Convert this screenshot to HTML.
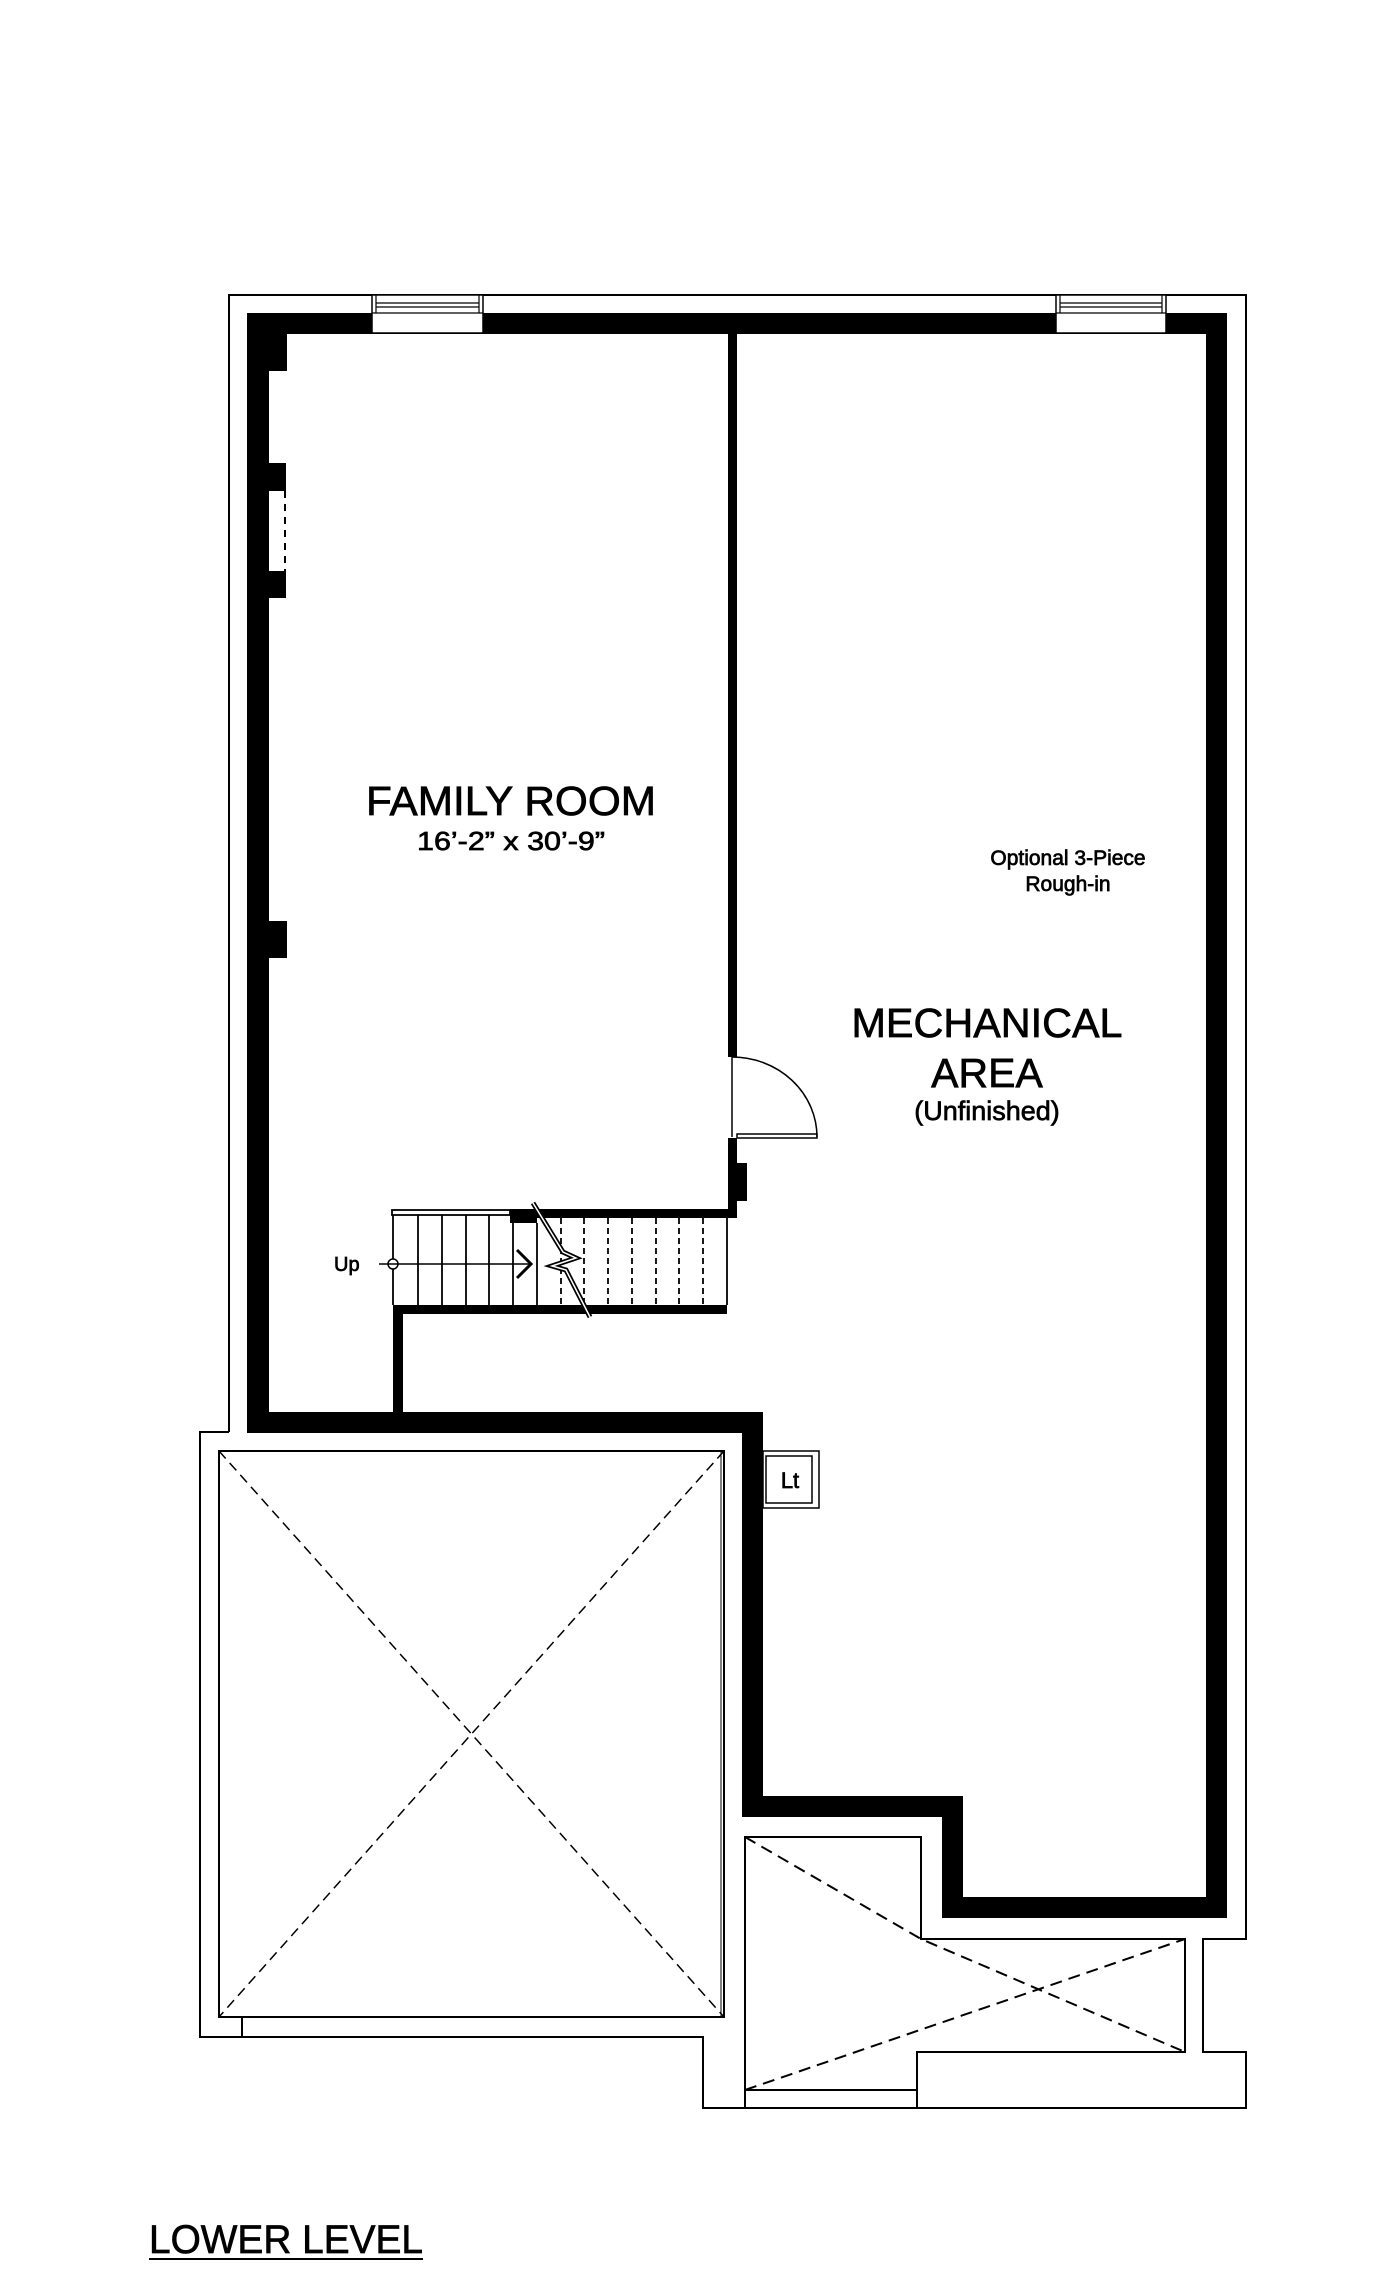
<!DOCTYPE html>
<html><head><meta charset="utf-8"><style>
html,body{margin:0;padding:0;background:#fff;}
svg{display:block;}
text{font-family:"Liberation Sans",sans-serif;fill:#000;stroke:#000;stroke-width:0.7;}
</style></head><body>
<svg width="1400" height="2277" viewBox="0 0 1400 2277" xmlns="http://www.w3.org/2000/svg">
<g fill="none" stroke="#000" stroke-width="2">
<polyline points="229,1432 229,295 1246,295 1246,1939 1203,1939 1203,2052 1246,2052 1246,2108 703,2108 703,2037 200,2037 200,1432 229,1432"/>
<line x1="242" y1="2017" x2="242" y2="2037"/>
</g>
<g fill="#000">
<rect x="247" y="313" width="980" height="21"/>
<rect x="247" y="313" width="22" height="1120"/>
<rect x="269" y="334" width="18" height="37"/>
<rect x="263" y="463" width="23" height="28"/>
<rect x="263" y="571" width="23" height="27"/>
<rect x="269" y="921" width="18" height="37"/>
<rect x="1206" y="313" width="21" height="1605"/>
<rect x="247" y="1412" width="516" height="21"/>
<rect x="742" y="1412" width="21" height="405"/>
<rect x="742" y="1796" width="221" height="21"/>
<rect x="942" y="1796" width="21" height="122"/>
<rect x="942" y="1897" width="285" height="21"/>
<rect x="728" y="334" width="9" height="723"/>
<rect x="728" y="1138" width="9" height="80"/>
<rect x="737" y="1163" width="10" height="38"/>
<rect x="510" y="1209" width="227" height="9"/>
<rect x="510" y="1218" width="27" height="5"/>
<rect x="393" y="1305" width="334" height="9"/>
<rect x="393" y="1305" width="10" height="107"/>
</g>
<rect x="269" y="491" width="16" height="80" fill="#fff"/>
<line x1="285" y1="491" x2="285" y2="571" stroke="#000" stroke-width="2" stroke-dasharray="7,6"/>
<line x1="263" y1="463" x2="263" y2="598" stroke="#000" stroke-width="1"/>
<g stroke="#000" stroke-width="1.5" fill="#fff">
<rect x="372" y="295" width="111" height="38"/>
<rect x="1056" y="295" width="110" height="38"/>
</g>
<g stroke="#000" stroke-width="1.2">
<line x1="376" y1="295" x2="376" y2="313"/><line x1="479" y1="295" x2="479" y2="313"/>
<line x1="376" y1="303" x2="479" y2="303"/><line x1="376" y1="307" x2="479" y2="307"/><line x1="372" y1="313" x2="483" y2="313"/>
<line x1="1060" y1="295" x2="1060" y2="313"/><line x1="1162" y1="295" x2="1162" y2="313"/>
<line x1="1060" y1="303" x2="1162" y2="303"/><line x1="1060" y1="307" x2="1162" y2="307"/><line x1="1056" y1="313" x2="1166" y2="313"/>
</g>
<g fill="none" stroke="#000" stroke-width="1.5">
<line x1="732" y1="1057" x2="732" y2="1137"/>
<path d="M732,1057 A85,80 0 0 1 817,1137"/>
<rect x="737" y="1134" width="80" height="4"/>
</g>
<g stroke="#000" stroke-width="1.8" fill="none">
<rect x="392" y="1210" width="118" height="5"/>
<line x1="393" y1="1215" x2="393" y2="1305"/>
<line x1="727" y1="1218" x2="727" y2="1305"/>
<line x1="418" y1="1215" x2="418" y2="1305"/><line x1="442" y1="1215" x2="442" y2="1305"/>
<line x1="466" y1="1215" x2="466" y2="1305"/><line x1="489" y1="1215" x2="489" y2="1305"/>
<line x1="513" y1="1223" x2="513" y2="1305"/><line x1="537" y1="1223" x2="537" y2="1305"/>
</g>
<g stroke="#000" stroke-width="1.8" stroke-dasharray="6,4">
<line x1="561" y1="1218" x2="561" y2="1305"/><line x1="584" y1="1218" x2="584" y2="1305"/>
<line x1="608" y1="1218" x2="608" y2="1305"/><line x1="632" y1="1218" x2="632" y2="1305"/>
<line x1="656" y1="1218" x2="656" y2="1305"/><line x1="679" y1="1218" x2="679" y2="1305"/>
<line x1="703" y1="1218" x2="703" y2="1305"/>
</g>
<polyline points="533,1203 563,1252 576,1258 552,1266 566,1270 590,1317" fill="none" stroke="#000" stroke-width="5"/>
<polyline points="533,1203 563,1252 576,1258 552,1266 566,1270 590,1317" fill="none" stroke="#fff" stroke-width="1.5"/>
<line x1="379" y1="1264" x2="531" y2="1264" stroke="#000" stroke-width="1.5"/>
<circle cx="393" cy="1264" r="5" fill="#fff" stroke="#000" stroke-width="1.5"/>
<line x1="388" y1="1264" x2="398" y2="1264" stroke="#000" stroke-width="1.5"/>
<polyline points="517,1250 531,1264 517,1278" fill="none" stroke="#000" stroke-width="3"/>
<text x="334" y="1271" font-size="20">Up</text>
<rect x="763" y="1451" width="56" height="57" fill="#fff" stroke="#000" stroke-width="1.5"/>
<rect x="766" y="1456" width="46" height="47" fill="none" stroke="#000" stroke-width="1.5"/>
<text x="790" y="1488" font-size="22" text-anchor="middle">Lt</text>
<g fill="none" stroke="#000" stroke-width="2">
<rect x="219" y="1451" width="505" height="566"/>
<line x1="721" y1="1451" x2="721" y2="2017" stroke-width="1"/>
</g>
<g stroke="#000" stroke-width="1.5" stroke-dasharray="10,6" fill="none">
<line x1="219" y1="1451" x2="724" y2="2017"/>
<line x1="724" y1="1451" x2="219" y2="2017"/>
</g>
<g fill="none" stroke="#000" stroke-width="2">
<polyline points="745,2108 745,1837 921,1837 921,1939 1185,1939 1185,2052 917,2052 917,2108"/>
<line x1="745" y1="2090" x2="917" y2="2090"/>
</g>
<g stroke="#000" stroke-width="2" stroke-dasharray="12,7" fill="none">
<polyline points="745,1837 921,1939 1185,2052"/>
<line x1="745" y1="2090" x2="1185" y2="1939"/>
</g>
<text x="511" y="815" font-size="41" stroke-width="1.2" text-anchor="middle" textLength="290" lengthAdjust="spacingAndGlyphs">FAMILY ROOM</text>
<text x="511" y="850" font-size="26" text-anchor="middle" textLength="188" lengthAdjust="spacingAndGlyphs">16’-2” x 30’-9”</text>
<text x="1068" y="865" font-size="21" text-anchor="middle">Optional 3-Piece</text>
<text x="1068" y="891" font-size="21" text-anchor="middle">Rough-in</text>
<text x="987" y="1037" font-size="41" stroke-width="1.2" text-anchor="middle" textLength="271" lengthAdjust="spacingAndGlyphs">MECHANICAL</text>
<text x="987" y="1087" font-size="41" stroke-width="1.2" text-anchor="middle">AREA</text>
<text x="987" y="1120" font-size="27" text-anchor="middle">(Unfinished)</text>
<text x="149" y="2253" font-size="40" stroke-width="0.9" textLength="274" lengthAdjust="spacingAndGlyphs">LOWER LEVEL</text>
<line x1="149" y1="2259" x2="423" y2="2259" stroke="#000" stroke-width="2"/>
</svg>
</body></html>
